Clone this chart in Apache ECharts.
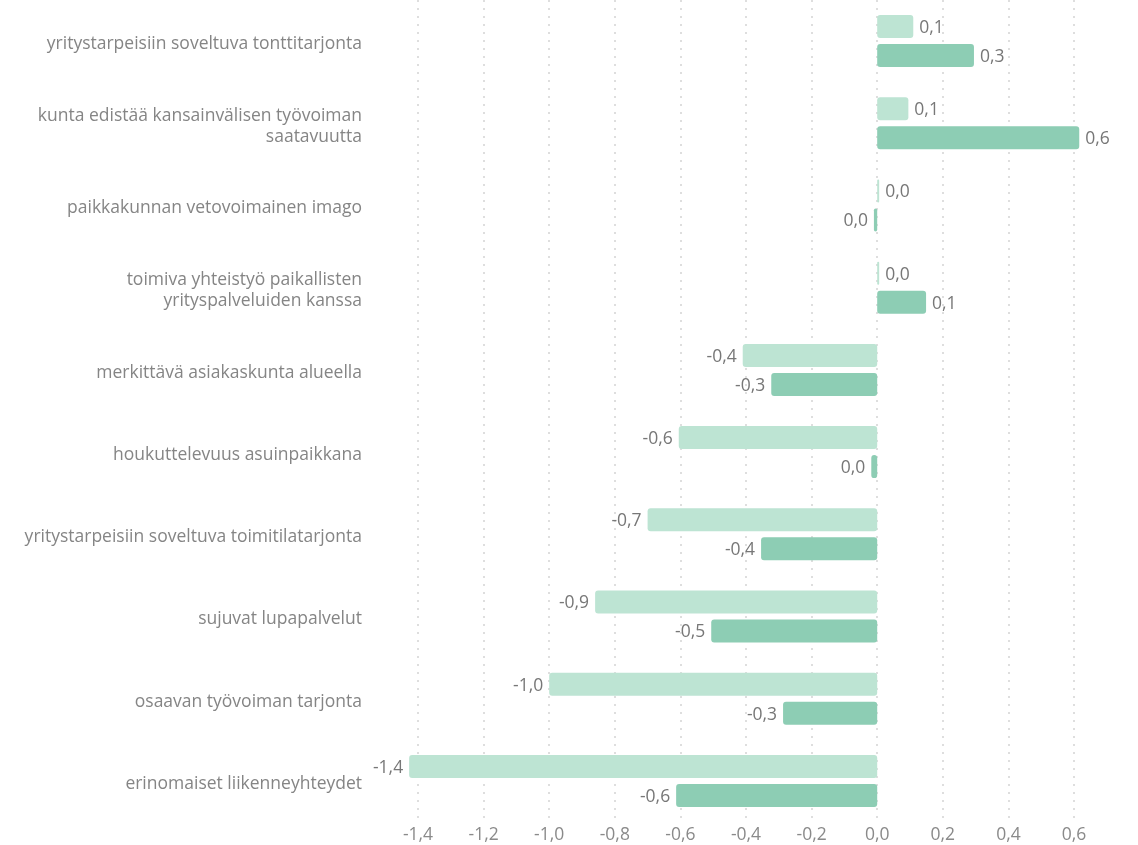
<!DOCTYPE html>
<html>
<head>
<meta charset="utf-8">
<script src="https://cdn.jsdelivr.net/npm/echarts@6/dist/echarts.min.js"></script>
<style>
html,body{margin:0;padding:0;background:#fff;}
#chart{width:1138px;height:845px;}
</style>
</head>
<body>
<div id="chart"></div>
<script>
var categories = [
  "yritystarpeisiin soveltuva tonttitarjonta",
  "kunta edistää kansainvälisen työvoiman\nsaatavuutta",
  "paikkakunnan vetovoimainen imago",
  "toimiva yhteistyö paikallisten\nyrityspalveluiden kanssa",
  "merkittävä asiakaskunta alueella",
  "houkuttelevuus asuinpaikkana",
  "yritystarpeisiin soveltuva toimitilatarjonta",
  "sujuvat lupapalvelut",
  "osaavan työvoiman tarjonta",
  "erinomaiset liikenneyhteydet"
];
var seriesLight = [0.11, 0.095, 0.006, 0.006, -0.41, -0.605, -0.70, -0.86, -1.0, -1.427];
var seriesDark  = [0.295, 0.616, -0.01, 0.149, -0.323, -0.018, -0.354, -0.506, -0.287, -0.613];
var xTicks = [-1.4, -1.2, -1.0, -0.8, -0.6, -0.4, -0.2, 0.0, 0.2, 0.4, 0.6];

function fmt(v) {
  var s = (Math.round(v * 10) / 10).toFixed(1);
  if (s === "-0.0") s = "0.0";
  return s.replace(".", ",");
}
function toData(arr) {
  return arr.map(function (v) {
    return { value: v, label: { position: v < 0 ? "left" : "right" } };
  });
}

var chart = echarts.init(document.getElementById("chart"));
chart.setOption({
  animation: false,
  textStyle: { fontFamily: "Open Sans" },
  grid: { left: 418, right: 64, top: 0, bottom: 23, containLabel: false },
  xAxis: {
    type: "value",
    min: xTicks[0], max: xTicks[xTicks.length - 1], interval: 0.2,
    axisLine: { show: false },
    axisTick: { show: false },
    splitLine: { show: true, lineStyle: { type: [2, 6], color: "#d4d4d4", width: 1.5 } },
    axisLabel: {
      color: "#8a8a8a", fontSize: 17.5, margin: 4, fontFamily: "Open Sans",
      formatter: function (v) { return fmt(v); }
    }
  },
  yAxis: {
    type: "category",
    data: categories,
    inverse: true,
    axisLine: { show: false, onZero: false },
    axisTick: { show: false },
    splitLine: { show: false },
    axisLabel: {
      color: "#858585", fontSize: 17.5, margin: 56, align: "right", fontFamily: "Open Sans",
      formatter: function (v) {
        return v.split("\n").map(function (l) { return "{t|" + l + "}"; }).join("\n");
      },
      rich: {
        t: { color: "#858585", fontSize: 17.5, fontFamily: "Open Sans", lineHeight: 21, padding: [6, 0, 0, 0], align: "right" }
      }
    }
  },
  series: [
    {
      type: "bar", name: "a", clip: false,
      data: toData(seriesLight),
      barWidth: 23, barGap: "26%", barCategoryGap: "36%",
      itemStyle: { color: "#bde4d3", borderRadius: 3 },
      label: { show: true, color: "#777", fontSize: 17.5, distance: 6, offset: [0, 1.5], formatter: function (p) { return fmt(p.value); } }
    },
    {
      type: "bar", name: "b", clip: false,
      data: toData(seriesDark),
      barWidth: 23, barGap: "26%",
      itemStyle: { color: "#8dcdb4", borderRadius: 3 },
      label: { show: true, color: "#777", fontSize: 17.5, distance: 6, offset: [0, 1.5], formatter: function (p) { return fmt(p.value); } }
    }
  ]
});
</script>
</body>
</html>
